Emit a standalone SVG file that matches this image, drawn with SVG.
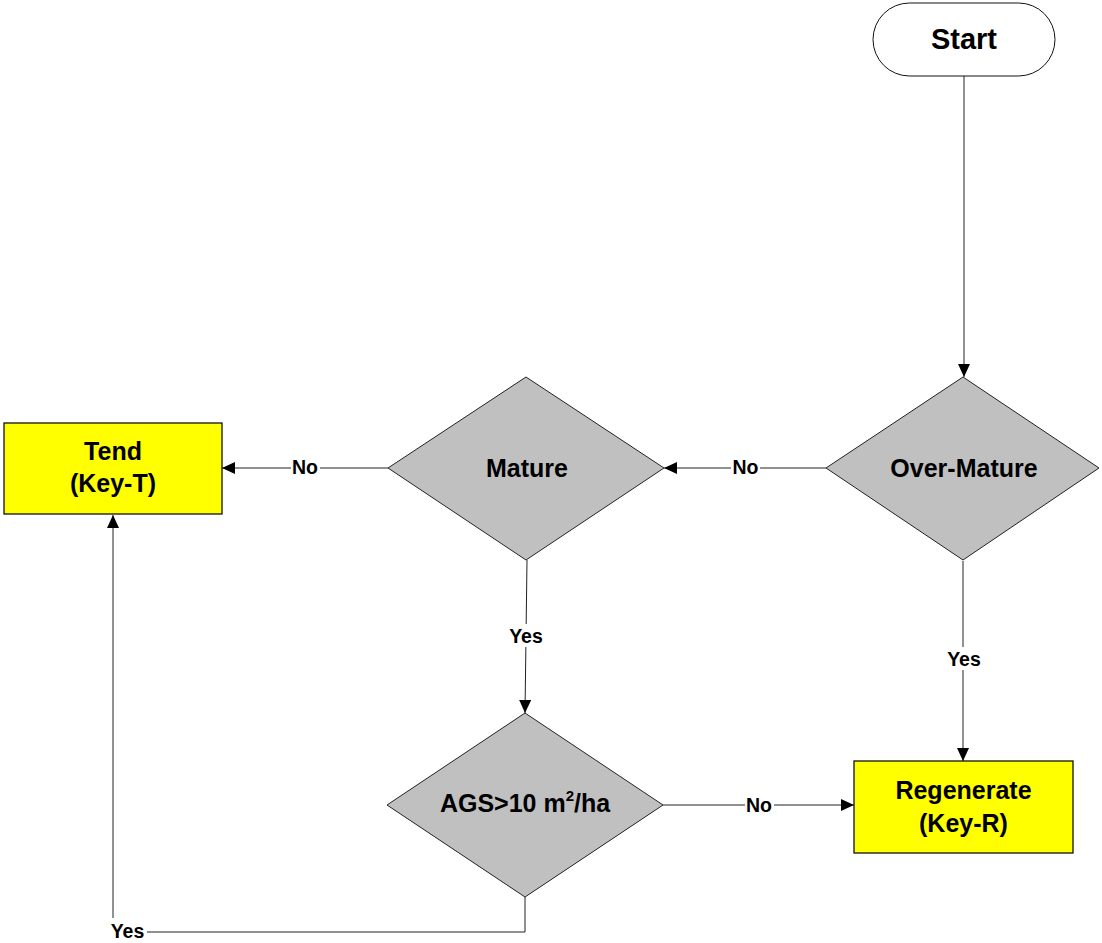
<svg xmlns="http://www.w3.org/2000/svg" width="1102" height="943" viewBox="0 0 1102 943">
<style>
.node{font-family:"Liberation Sans",Arial,sans-serif;font-weight:bold;font-size:25px;fill:#000;text-anchor:middle}
.lbl{font-family:"Liberation Sans",Arial,sans-serif;font-weight:bold;font-size:19.5px;fill:#000;text-anchor:middle}
.dia{fill:#c0c0c0;stroke:#222;stroke-width:1}
.box{fill:#ffff00;stroke:#111;stroke-width:1.3}
.edge{fill:none;stroke:#222;stroke-width:1}
.bg{fill:#fff}
</style>
<defs>
<marker id="arr" viewBox="0 0 13 12" refX="13" refY="6" markerWidth="13" markerHeight="12" markerUnits="userSpaceOnUse" orient="auto">
<path d="M0,0 L13,6 L0,12 Z" fill="#000"/>
</marker>
</defs>
<rect width="1102" height="943" fill="#fff"/>
<g id="connectors">
<line class="edge" x1="964" y1="76" x2="964" y2="377" marker-end="url(#arr)"/>
<line class="edge" x1="826" y1="468" x2="664" y2="468" marker-end="url(#arr)"/>
<line class="edge" x1="388" y1="468" x2="222" y2="468" marker-end="url(#arr)"/>
<line class="edge" x1="527" y1="560" x2="525" y2="713" marker-end="url(#arr)"/>
<line class="edge" x1="963" y1="561" x2="963" y2="761" marker-end="url(#arr)"/>
<line class="edge" x1="663" y1="805" x2="854" y2="805" marker-end="url(#arr)"/>
<polyline class="edge" points="525,897 525,932 113,932 113,515" marker-end="url(#arr)"/>
<rect class="bg" x="731" y="456" width="29" height="22"/>
<text class="lbl" x="745.5" y="474">No</text>
<rect class="bg" x="291" y="456" width="29" height="22"/>
<text class="lbl" x="305" y="474">No</text>
<rect class="bg" x="507" y="624" width="38" height="23"/>
<text class="lbl" x="526" y="643">Yes</text>
<rect class="bg" x="945" y="647" width="38" height="23"/>
<text class="lbl" x="964" y="666">Yes</text>
<rect class="bg" x="745" y="794" width="29" height="22"/>
<text class="lbl" x="759" y="812">No</text>
<rect class="bg" x="108" y="918" width="39" height="25"/>
<text class="lbl" x="127.5" y="938">Yes</text>
</g>
<g id="start">
<rect x="873" y="3" width="182" height="73" rx="36.5" ry="36.5" fill="#fff" stroke="#111" stroke-width="1"/>
<text class="node" x="964" y="49" style="font-size:29px">Start</text>
</g>
<g id="over-mature">
<polygon class="dia" points="963,377 1099,468 963,560 826,468"/>
<text class="node" x="964" y="476.5">Over-Mature</text>
</g>
<g id="mature">
<polygon class="dia" points="526,377 664,468 526,560 388,468"/>
<text class="node" x="527" y="476.5">Mature</text>
</g>
<g id="tend">
<rect class="box" x="4" y="423" width="218" height="91"/>
<text class="node" x="113" y="460">Tend</text>
<text class="node" x="113" y="492">(Key-T)</text>
</g>
<g id="ags">
<polygon class="dia" points="525,713 663,805 525,897 387,805"/>
<text class="node" x="525" y="812">AGS&gt;10 m<tspan dy="-11" style="font-size:15px">2</tspan><tspan dy="11">/ha</tspan></text>
</g>
<g id="regenerate">
<rect class="box" x="854" y="761" width="219" height="92"/>
<text class="node" x="963.5" y="799">Regenerate</text>
<text class="node" x="963.5" y="832">(Key-R)</text>
</g>
</svg>
